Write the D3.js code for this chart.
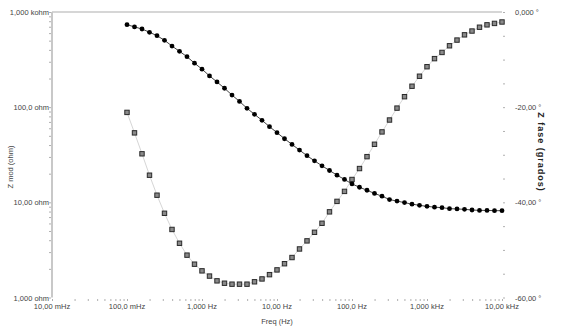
<!DOCTYPE html>
<html>
<head>
<meta charset="utf-8">
<script src="https://cdn.jsdelivr.net/npm/d3@7"></script>
<style>
  body { margin: 0; background: #fff; }
  svg { display: block; }
  text { font-family: "Liberation Sans Narrow", "Arial Narrow", "Liberation Sans", sans-serif; fill: #444; }
</style>
</head>
<body>
<div id="chart"></div>
<script>
var width = 580,
    height = 329,
    margin = {top: 12, right: 78, bottom: 31.5, left: 52};

// frequency sweep (Hz)
var freq = [
  0.1, 0.1259, 0.1585, 0.1995, 0.2512, 0.3162, 0.3981, 0.5012, 0.631, 0.7943,
  1, 1.259, 1.585, 1.995, 2.512, 3.162, 3.981, 5.012, 6.31, 7.943,
  10, 12.59, 15.85, 19.95, 25.12, 31.62, 39.81, 50.12, 63.1, 79.43,
  100, 125.9, 158.5, 199.5, 251.2, 316.2, 398.1, 501.2, 631, 794.3,
  1000, 1259, 1585, 1995, 2512, 3162, 3981, 5012, 6310, 7943,
  10000
]

// Z mod (ohm)
var zmod = [
  736, 697, 663, 612, 564, 504, 439, 386, 339, 290,
  251, 213, 184, 158, 134, 115, 97.3, 84.1, 72.8, 62.4,
  54.0, 46.6, 40.6, 35.4, 30.9, 27.3, 24.2, 21.6, 19.3, 17.4,
  15.6, 14.4, 13.4, 12.4, 11.6, 10.7, 10.3, 9.93, 9.57, 9.30,
  9.07, 8.90, 8.79, 8.58, 8.52, 8.44, 8.31, 8.23, 8.23, 8.17,
  8.17
]

// Z fase (grados)
var zfase = [
  -21.1, -25.4, -29.8, -34.3, -38.5, -42.3, -45.7, -48.6, -51.1, -53.0,
  -54.4, -55.5, -56.5, -57.0, -57.2, -57.2, -57.2, -56.7, -56.1, -55.2,
  -54.2, -52.9, -51.6, -49.8, -48.1, -46.3, -44.4, -42.0, -39.8, -37.7,
  -35.2, -32.9, -30.4, -27.8, -25.2, -22.7, -20.2, -17.8, -15.6, -13.5,
  -11.5, -9.8, -8.5, -7.1, -5.9, -4.8, -4.0, -3.2, -2.7, -2.4,
  -2.1
]

var xTicks = [0.01, 0.1, 1, 10, 100, 1000, 10000],
    xLabels = ['10,00 mHz', '100,0 mHz', '1,000 Hz', '10,00 Hz', '100,0 Hz', '1,000 kHz', '10,00 kHz']
var yTicks = [1, 10, 100, 1000],
    yLabels = ['1,000 ohm', '10,00 ohm', '100,0 ohm', '1,000 kohm']
var phTicks = [0, -20, -40, -60],
    phLabels = ['0,000 \u00b0', '-20,00 \u00b0', '-40,00 \u00b0', '-60,00 \u00b0']

var x = d3.scaleLog().domain([0.01, 10000]).range([margin.left, width - margin.right])
var y = d3.scaleLog().domain([1, 1000]).range([height - margin.bottom, margin.top])
var yPh = d3.scaleLinear().domain([-60, 0]).range([height - margin.bottom, margin.top])

var svg = d3.select('#chart')
  .append('svg')
  .attr('width', width)
  .attr('height', height)

// minor tick positions from log scales
function minors(scale) {
  var out = []
  var d = scale.domain()
  for (var e = Math.log10(d[0]); e < Math.log10(d[1]); e++) {
    for (var m = 1; m < 10; m++) out.push(m * Math.pow(10, e))
  }
  out.push(d[1])
  return out
}

// frame: top line and left axis line
svg.append('line')
  .attr('x1', x.range()[0]).attr('x2', x.range()[1])
  .attr('y1', margin.top).attr('y2', margin.top)
  .attr('stroke', '#c8c8c8').attr('stroke-width', 1.5)

svg.append('line')
  .attr('x1', margin.left).attr('x2', margin.left)
  .attr('y1', margin.top).attr('y2', height - margin.bottom)
  .attr('stroke', '#c8c8c8').attr('stroke-width', 2)

// bottom axis ticks
var xAxis = svg.append('g')
  .attr('transform', 'translate(0,' + (height - margin.bottom + 1.5) + ')')
  .call(d3.axisBottom(x).tickValues(minors(x)).tickSize(2).tickFormat(''))
xAxis.select('.domain').remove()
xAxis.selectAll('line').attr('stroke', '#b0b0b0')

svg.append('g')
  .selectAll('text')
  .data(xTicks)
  .enter()
  .append('text')
  .attr('x', function(d) {return x(d)})
  .attr('y', height - margin.bottom + 11)
  .attr('text-anchor', 'middle')
  .style('font-size', '7.5px')
  .text(function(d, i) {return xLabels[i]})

// left axis ticks
var yAxis = svg.append('g')
  .attr('transform', 'translate(' + (margin.left - 1) + ',0)')
  .call(d3.axisLeft(y).tickValues(minors(y)).tickSize(2).tickFormat(''))
yAxis.select('.domain').remove()
yAxis.selectAll('line').attr('stroke', '#b0b0b0')

svg.append('g')
  .selectAll('text')
  .data(yTicks)
  .enter()
  .append('text')
  .attr('x', margin.left - 3)
  .attr('y', function(d) {return y(d) + 3})
  .attr('text-anchor', 'end')
  .style('font-size', '7.5px')
  .text(function(d, i) {return yLabels[i]})

// right axis ticks
var phAxis = svg.append('g')
  .attr('transform', 'translate(' + (width - margin.right + 1) + ',0)')
  .call(d3.axisRight(yPh).tickValues(d3.range(-60, 1, 5)).tickSize(2).tickFormat(''))
phAxis.select('.domain').remove()
phAxis.selectAll('line').attr('stroke', '#b0b0b0')

svg.append('g')
  .selectAll('text')
  .data(phTicks)
  .enter()
  .append('text')
  .attr('x', width - margin.right + 13)
  .attr('y', function(d) {return yPh(d) + 3})
  .attr('text-anchor', 'start')
  .style('font-size', '7.5px')
  .text(function(d, i) {return phLabels[i]})

// axis titles
svg.append('text')
  .attr('x', 277)
  .attr('y', 324)
  .attr('text-anchor', 'middle')
  .style('font-size', '7.5px')
  .text('Freq (Hz)')

svg.append('text')
  .attr('transform', 'translate(13,167) rotate(-90)')
  .attr('text-anchor', 'middle')
  .style('font-size', '7.5px')
  .text('Z mod (ohm)')

svg.append('text')
  .attr('transform', 'translate(538,152) rotate(90)')
  .attr('text-anchor', 'middle')
  .style('font-size', '9px')
  .style('font-weight', 'bold')
  .style('font-family', '"Liberation Sans", Arial, sans-serif')
  .style('fill', '#222')
  .style('letter-spacing', '1px')
  .text('Z fase (grados)')

var ptsMod = freq.map(function(f, i) {return {f: f, v: zmod[i]}})
var ptsPh = freq.map(function(f, i) {return {f: f, v: zfase[i]}})

// phase: light line + squares
svg.append('path')
  .datum(ptsPh)
  .attr('fill', 'none')
  .attr('stroke', '#d6d6d6')
  .attr('stroke-width', 1)
  .attr('d', d3.line().x(function(d) {return x(d.f)}).y(function(d) {return yPh(d.v)}))

svg.append('g')
  .selectAll('rect')
  .data(ptsPh)
  .enter()
  .append('rect')
  .attr('x', function(d) {return x(d.f) - 2.2})
  .attr('y', function(d) {return yPh(d.v) - 2.2})
  .attr('width', 4.4)
  .attr('height', 4.4)
  .attr('fill', '#8a8a8a')
  .attr('stroke', '#2a2a2a')
  .attr('stroke-width', 1)

// Z mod: dark line + dots
svg.append('path')
  .datum(ptsMod)
  .attr('fill', 'none')
  .attr('stroke', '#444')
  .attr('stroke-width', 1)
  .attr('d', d3.line().x(function(d) {return x(d.f)}).y(function(d) {return y(d.v)}))

svg.append('g')
  .selectAll('circle')
  .data(ptsMod)
  .enter()
  .append('circle')
  .attr('cx', function(d) {return x(d.f)})
  .attr('cy', function(d) {return y(d.v)})
  .attr('r', 2.4)
  .attr('fill', '#000')
</script>
</body>
</html>
